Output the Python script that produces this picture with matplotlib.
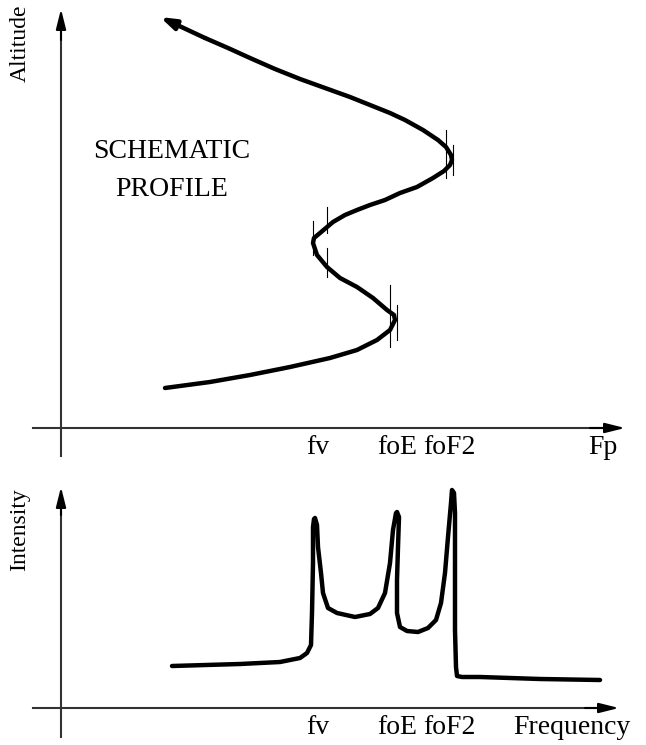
import matplotlib.pyplot as plt
import numpy as np

plt.rcParams['font.family'] = ['Liberation Serif', 'DejaVu Serif']

# schematic profile: plasma frequency (px) vs altitude (px)
prof_f = [165, 210, 250, 290, 330, 357, 377, 390, 395, 394, 387, 373, 357, 340, 327, 317, 313,
          314, 320, 333, 345, 357, 370, 385, 400, 417, 433, 444, 450, 452, 451, 446, 438, 423,
          405, 390, 370, 350, 325, 300, 275, 250, 228, 205]
prof_h = [388, 382, 375, 367, 358, 350, 340, 330, 320, 315, 310, 298, 287, 278, 267, 255, 243,
          238, 233, 222, 215, 210, 205, 200, 193, 187, 178, 171, 165, 160, 155, 147, 140, 130,
          120, 113, 105, 97, 88, 79, 69, 58, 48, 38]

# tick marks on the profile: x, y0, y1
marks_x = [313, 327, 327, 390, 397, 446, 453]
marks_y0 = [221, 207, 248, 285, 305, 130, 145]
marks_y1 = [255, 233, 277, 347, 340, 178, 175]

# spectrum: frequency (px) vs intensity (px)
spec_f = [172, 240, 280, 300, 307, 311, 312, 313, 313, 314, 315, 317, 318, 321, 323, 328, 337,
          355, 370, 378, 385, 390, 393, 396, 397, 399, 398, 397, 397, 400, 407, 418, 428, 436,
          441, 445, 448, 451, 452, 454, 455, 455, 455, 456, 457, 462, 480, 540, 600]
spec_h = [666, 664, 662, 658, 653, 645, 613, 563, 527, 519, 518, 525, 547, 573, 593, 608, 613,
          617, 614, 608, 593, 563, 530, 513, 512, 517, 547, 580, 613, 627, 631, 632, 628, 620,
          603, 573, 537, 503, 490, 493, 513, 563, 630, 667, 676, 677, 677, 679, 680]

top_labels = ['fv', 'foE', 'foF2', 'Fp']
top_label_x = [318, 397, 449, 603]
bot_labels = ['fv', 'foE', 'foF2', 'Frequency']
bot_label_x = [318, 397, 449, 572]

fig = plt.figure(figsize=(6.46, 7.45), dpi=100)
ax = fig.add_axes([0, 0, 1, 1])
ax.set_xlim(0, 646)
ax.set_ylim(745, 0)
ax.axis('off')

axc = '#333333'
arr = dict(arrowstyle='-|>,head_length=1.2,head_width=0.3', color='black', lw=1.5, shrinkA=0, shrinkB=0)

# top axes
ax.plot([33, 612], [428, 428], color=axc, lw=1.5)
ax.plot([61, 61], [456, 20], color=axc, lw=1.5)
ax.annotate('', xy=(625, 428), xytext=(590, 428), arrowprops=arr)
ax.annotate('', xy=(61, 9), xytext=(61, 40), arrowprops=arr)

# bottom axes
ax.plot([33, 605], [708, 708], color=axc, lw=1.5)
ax.plot([61, 61], [737, 497], color=axc, lw=1.5)
ax.annotate('', xy=(619, 708), xytext=(585, 708), arrowprops=arr)
ax.annotate('', xy=(61, 487), xytext=(61, 515), arrowprops=arr)

# profile curve
ax.plot(prof_f, prof_h, color='black', lw=3.2, solid_joinstyle='round', solid_capstyle='round')
ax.annotate('', xy=(160, 17), xytext=(prof_f[-1], prof_h[-1]),
            arrowprops=dict(arrowstyle='-|>,head_length=0.9,head_width=0.3', color='black', lw=3.2,
                            shrinkA=0, shrinkB=0))
for x, y0, y1 in zip(marks_x, marks_y0, marks_y1):
    ax.plot([x, x], [y0, y1], color='black', lw=0.8)

# spectrum curve
ax.plot(spec_f, spec_h, color='black', lw=3.2, solid_joinstyle='round', solid_capstyle='round')

ax.text(20, 43, 'Altitude', rotation=90, ha='center', va='center', fontsize=17)
ax.text(20, 530, 'Intensity', rotation=90, ha='center', va='center', fontsize=17)
fs = 20
ax.text(172, 152, 'SCHEMATIC', ha='center', va='center', fontsize=fs)
ax.text(172, 190, 'PROFILE', ha='center', va='center', fontsize=fs)
for t, x in zip(top_labels, top_label_x):
    ax.text(x, 448, t, ha='center', va='center', fontsize=fs)
for t, x in zip(bot_labels, bot_label_x):
    ax.text(x, 727, t, ha='center', va='center', fontsize=fs)

fig.savefig('out.png', dpi=100)
